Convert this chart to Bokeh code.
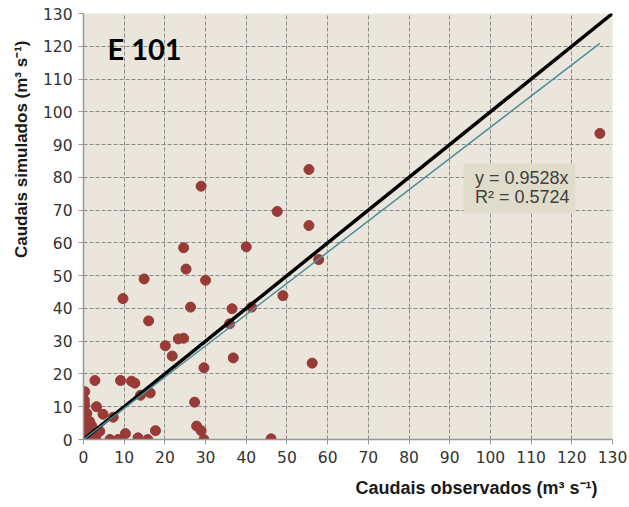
from bokeh.plotting import figure
from bokeh.models import Label, BoxAnnotation, FixedTicker, Range1d, Title
from bokeh.embed import file_html
from bokeh.resources import INLINE

# Station E 101: observed vs simulated discharge (m3 s-1)
observed = [126.9, 55.4, 28.9, 47.6, 55.4, 24.6, 40.0, 25.2, 30.0, 57.8,
            49.0, 26.3, 36.5, 41.3, 35.9, 24.6, 23.3, 20.1, 21.8, 36.8,
            29.6, 56.2, 27.3, 27.8, 28.9, 29.6, 46.1, 14.9, 9.7, 16.0,
            2.8, 9.1, 11.8, 12.6, 14.0, 16.4, 3.2, 4.8, 7.3, 10.3,
            13.4, 6.5, 8.5, 15.8, 17.7,
            0.3, 0.2, 0.3, 0.2, 0.4, 0.3, 0.5, 0.2, 0.5, 1.5,
            1.0, 2.0, 2.5, 1.5, 3.0, 4.0, 0.8]
simulated = [93.4, 82.4, 77.3, 69.6, 65.3, 58.5, 58.8, 52.0, 48.6, 54.9,
             43.9, 40.4, 39.9, 40.4, 35.3, 30.9, 30.7, 28.6, 25.5, 24.9,
             21.9, 23.3, 11.4, 4.1, 2.7, 0.0, 0.2, 49.0, 43.0, 36.2,
             18.0, 18.0, 17.8, 17.2, 13.5, 14.2, 10.0, 7.7, 6.8, 1.8,
             0.5, 0.0, 0.0, 0.0, 2.7,
             14.6, 12.0, 10.5, 8.5, 6.0, 4.5, 3.0, 1.5, 0.3, 0.2,
             2.0, 4.2, 1.5, 5.5, 0.5, 2.5, 8.0]

slope = 0.9528
r_squared = 0.5724
ticks = list(range(0, 131, 10))
axis_max = 130

BG = "#EAE6DC"
DOT = "#983A36"
TEXT = "#333333"
FONT = "Liberation Sans"
TICK_FONT = "DejaVu Sans"

p = figure(width=629, height=507, output_backend="svg", toolbar_location=None,
           x_range=Range1d(0, axis_max), y_range=Range1d(0, axis_max),
           min_border_left=0, min_border_right=17, min_border_top=13,
           min_border_bottom=0)
p.background_fill_color = BG
p.border_fill_color = "white"
p.outline_line_color = None

for ax in (p.xaxis[0], p.yaxis[0]):
    ax.ticker = FixedTicker(ticks=ticks)
    ax.axis_line_color = "#999999"
    ax.axis_line_width = 1.5
    ax.major_tick_line_color = "#999999"
    ax.major_tick_out = 5
    ax.major_tick_in = 0
    ax.minor_tick_line_color = None
    ax.major_label_text_font = TICK_FONT
    ax.major_label_text_font_size = "15.5px"
    ax.major_label_text_color = TEXT
p.xaxis.major_label_standoff = 6
p.yaxis.major_label_standoff = 6

for g in (p.xgrid[0], p.ygrid[0]):
    g.ticker = FixedTicker(ticks=ticks)
    g.grid_line_color = "#8C8C8C"
    g.grid_line_dash = "4 2"
    g.grid_line_width = 1

# observations
p.scatter(observed, simulated, size=10, fill_color=DOT, line_color=DOT)

# 1:1 line and linear trend through the origin
p.line([0, axis_max], [0, axis_max], line_color="black", line_width=3.5)
x_max = max(observed)
p.line([0, x_max], [0, slope * x_max], line_color="#4E8E9C", line_width=1.5)

# equation box
p.add_layout(BoxAnnotation(left=93.4, right=120.9, bottom=69.0, top=84.2,
                           fill_color="#E0DCCB", fill_alpha=1.0, line_color=None))
p.add_layout(Label(x=96.2, y=76.9, text=f"y = {slope:.4f}x",
                   text_font=FONT, text_font_size="18px", text_color="#404040"))
p.add_layout(Label(x=96.2, y=71.1, text=f"R² = {r_squared:.4f}",
                   text_font=FONT, text_font_size="18px", text_color="#404040"))

# station name
p.add_layout(Label(x=5.9, y=113.9, text="E 101", text_font="Lato",
                   text_font_style="bold", text_font_size="29px", text_color="black"))

# axis titles
x_title = Title(text="Caudais observados (m³ s⁻¹)", align="right", offset=15,
                standoff=20, text_font=FONT, text_font_style="bold",
                text_font_size="18px", text_color="#1A1A1A")
y_title = Title(text="Caudais simulados (m³ s⁻¹)", align="right", offset=27,
                standoff=18, text_font=FONT, text_font_style="bold",
                text_font_size="17px", text_color="#1A1A1A")
p.add_layout(x_title, "below")
p.add_layout(y_title, "left")

open("out.html", "w").write(file_html(p, INLINE))
